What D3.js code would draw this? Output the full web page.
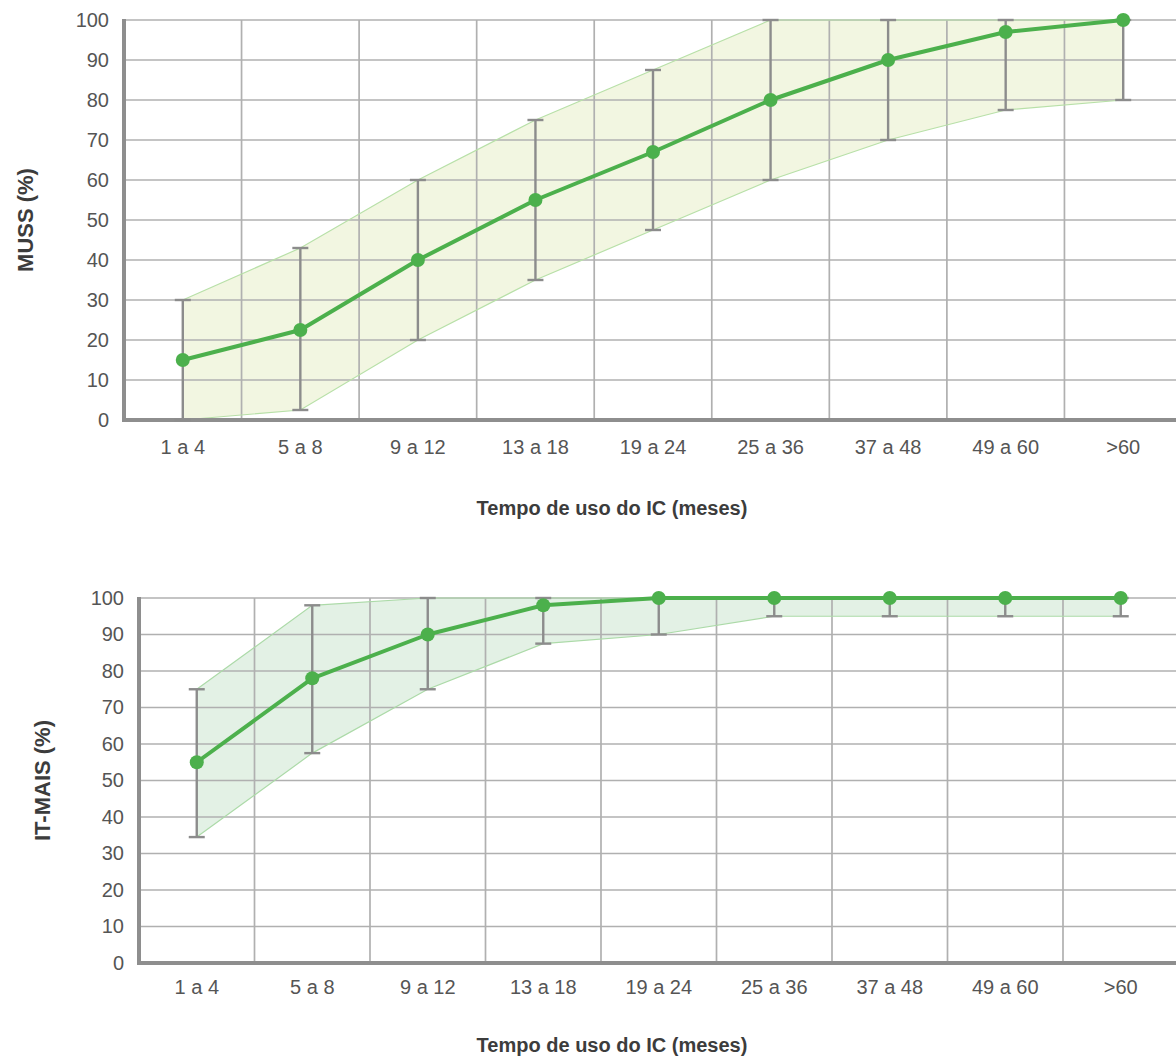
<!DOCTYPE html>
<html>
<head>
<meta charset="utf-8">
<script src="https://cdn.jsdelivr.net/npm/d3@7/dist/d3.min.js"></script>
<style>
  html, body { margin: 0; padding: 0; background: #fff; }
  svg { display: block; }
  text { font-family: "Liberation Sans", Arial, sans-serif; }
</style>
</head>
<body>
<svg id="chart" width="1176" height="1060"></svg>
<script>
// ---------- data ----------
const categories = ["1 a 4", "5 a 8", "9 a 12", "13 a 18", "19 a 24", "25 a 36", "37 a 48", "49 a 60", ">60"];
const yTicks = [0, 10, 20, 30, 40, 50, 60, 70, 80, 90, 100];
const xTitle = "Tempo de uso do IC (meses)";

const mussMean  = [15, 22.5, 40, 55, 67, 80, 90, 97, 100];
const mussUpper = [30, 43, 60, 75, 87.5, 100, 100, 100, 100];
const mussLower = [0, 2.5, 20, 35, 47.5, 60, 70, 77.5, 80];

const itMean  = [55, 78, 90, 98, 100, 100, 100, 100, 100];
const itUpper = [75, 98, 100, 100, 100, 100, 100, 100, 100];
const itLower = [34.5, 57.5, 75, 87.5, 90, 95, 95, 95, 95];

// ---------- layout ----------
const panels = [
  { yTitle: "MUSS (%)", mean: mussMean, upper: mussUpper, lower: mussLower,
    x0: 124, x1: 1182, yTop: 20, yBot: 420, tickY: 454, titleY: 515, yTitleX: 33,
    bandFill: "#f2f6e1", bandStroke: "#b8e0a8" },
  { yTitle: "IT-MAIS (%)", mean: itMean, upper: itUpper, lower: itLower,
    x0: 139, x1: 1178.5, yTop: 598, yBot: 963, tickY: 994, titleY: 1052, yTitleX: 50,
    bandFill: "#e3f1e5", bandStroke: "#acdaa8" }
];

const svg = d3.select("#chart");
const green = "#4cb04c";
const gridColor = "#b0b0b0";
const axisColor = "#8e8e8e";
const errColor = "#8c8c8c";
const labelColor = "#555555";
const curve = d3.curveLinear;

panels.forEach(p => {
  const x = d3.scaleBand().domain(categories).range([p.x0, p.x1]).padding(0);
  const y = d3.scaleLinear().domain([0, 100]).range([p.yBot, p.yTop]);
  const cx = c => x(c) + x.bandwidth() / 2;
  const rows = categories.map((c, i) => ({ c, m: p.mean[i], hi: p.upper[i], lo: p.lower[i] }));

  const g = svg.append("g");

  // band (range area)
  const area = d3.area().curve(curve)
    .x(d => cx(d.c)).y0(d => y(d.lo)).y1(d => y(d.hi));
  g.append("path").datum(rows).attr("d", area).attr("fill", p.bandFill).attr("stroke", "none");

  // horizontal gridlines
  g.selectAll(".hgrid").data(yTicks.filter(t => t > 0)).enter().append("line")
    .attr("x1", p.x0).attr("x2", 1176)
    .attr("y1", d => y(d)).attr("y2", d => y(d))
    .attr("stroke", gridColor).attr("stroke-width", 1.7);

  // vertical gridlines at band boundaries
  g.selectAll(".vgrid").data(categories.slice(1)).enter().append("line")
    .attr("x1", d => x(d)).attr("x2", d => x(d))
    .attr("y1", p.yTop).attr("y2", p.yBot)
    .attr("stroke", gridColor).attr("stroke-width", 1.7);

  // band edges
  const upperLine = d3.line().curve(curve).x(d => cx(d.c)).y(d => y(d.hi));
  const lowerLine = d3.line().curve(curve).x(d => cx(d.c)).y(d => y(d.lo));
  g.append("path").datum(rows).attr("d", upperLine).attr("fill", "none")
    .attr("stroke", p.bandStroke).attr("stroke-width", 1.2);
  g.append("path").datum(rows).attr("d", lowerLine).attr("fill", "none")
    .attr("stroke", p.bandStroke).attr("stroke-width", 1.2);

  // axes lines
  g.append("line").attr("x1", p.x0).attr("x2", p.x0).attr("y1", p.yTop - 1).attr("y2", p.yBot + 2)
    .attr("stroke", axisColor).attr("stroke-width", 4);
  g.append("line").attr("x1", p.x0 - 2).attr("x2", 1176).attr("y1", p.yBot).attr("y2", p.yBot)
    .attr("stroke", axisColor).attr("stroke-width", 4);

  // error bars
  const eb = g.selectAll(".err").data(rows).enter().append("g");
  eb.append("line").attr("x1", d => cx(d.c)).attr("x2", d => cx(d.c))
    .attr("y1", d => y(d.hi)).attr("y2", d => y(d.lo))
    .attr("stroke", errColor).attr("stroke-width", 2.4);
  eb.append("line").attr("x1", d => cx(d.c) - 8).attr("x2", d => cx(d.c) + 8)
    .attr("y1", d => y(d.hi)).attr("y2", d => y(d.hi))
    .attr("stroke", errColor).attr("stroke-width", 2.4);
  eb.append("line").attr("x1", d => cx(d.c) - 8).attr("x2", d => cx(d.c) + 8)
    .attr("y1", d => y(d.lo)).attr("y2", d => y(d.lo))
    .attr("stroke", errColor).attr("stroke-width", 2.4);

  // mean line
  const meanLine = d3.line().curve(curve).x(d => cx(d.c)).y(d => y(d.m));
  g.append("path").datum(rows).attr("d", meanLine).attr("fill", "none")
    .attr("stroke", green).attr("stroke-width", 4).attr("stroke-linejoin", "round");
  g.selectAll(".dot").data(rows).enter().append("circle")
    .attr("cx", d => cx(d.c)).attr("cy", d => y(d.m)).attr("r", 7).attr("fill", green);

  // y tick labels
  const yAxis = d3.axisLeft(y).tickValues(yTicks).tickSize(0).tickPadding(0).tickFormat(d3.format("d"));
  const ya = g.append("g").attr("transform", `translate(${p.x0 - 15},0)`).call(yAxis);
  ya.select(".domain").remove();
  ya.selectAll("text").attr("font-size", 20).attr("fill", labelColor)
    .attr("font-family", "'Liberation Sans', Arial, sans-serif");

  // x tick labels
  const xAxis = d3.axisBottom(x).tickSize(0).tickPadding(0);
  const xa = g.append("g").attr("transform", `translate(0,${p.tickY - 15})`).call(xAxis);
  xa.select(".domain").remove();
  xa.selectAll("text").attr("font-size", 20).attr("fill", labelColor).attr("dy", 0).attr("y", 15)
    .attr("font-family", "'Liberation Sans', Arial, sans-serif");

  // x title
  g.append("text").attr("x", 612).attr("y", p.titleY).attr("text-anchor", "middle")
    .attr("font-size", 20).attr("font-weight", "bold").attr("fill", "#3c3c3c").text(xTitle);

  // y title
  const yc = (p.yTop + p.yBot) / 2;
  g.append("text").attr("transform", `translate(${p.yTitleX},${yc}) rotate(-90)`)
    .attr("text-anchor", "middle").attr("font-size", 22).attr("font-weight", "bold")
    .attr("fill", "#3c3c3c").text(p.yTitle);
});
</script>
</body>
</html>
